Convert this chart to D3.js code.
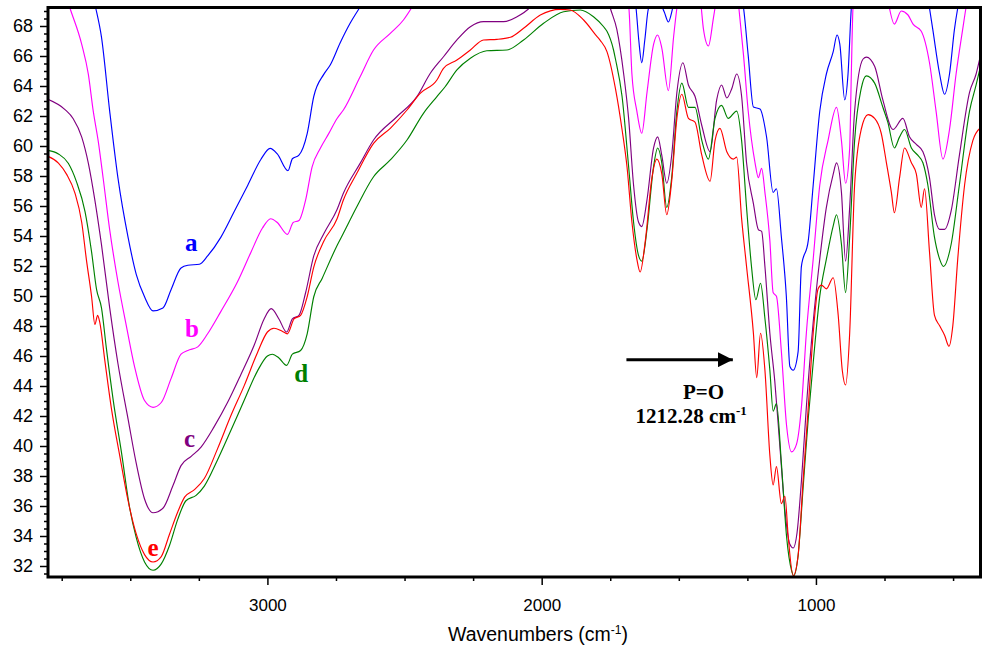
<!DOCTYPE html>
<html>
<head>
<meta charset="utf-8">
<script src="https://cdn.jsdelivr.net/npm/d3@7"></script>
<style>
body { margin: 0; background: #fff; }
</style>
</head>
<body>
<div id="chart"></div>
<script>
// wavenumber (cm-1), transmittance (%)
var seriesA = [
	[3800,76],[3660,71.5],[3626,69.2],[3605,67.26],[3575,62.31],[3545,57.87],[3508,53.91],[3478,51.43],[3448,49.95],[3417,49.01],
	[3381,49.2],[3351,50.44],[3315,51.87],[3290,52.05],[3248,52.12],[3218,52.67],[3170,53.91],[3121,55.63],[3072,57.37],[3024,59.1],
	[2990,59.84],[2964,59.47],[2925,58.35],[2909,59.15],[2885,59.39],[2855,60.83],[2831,63.3],[2794,64.79],[2771,65.4],[2735,66.87],
	[2698,68.2],[2662,69.27],[2600,71],[2000,75],[1720,71],[1669,70.4],[1656,69.2],[1646,67.07],[1635,65.55],[1624,67.07],
	[1610,69.2],[1575,69.73],[1553,68.93],[1538,68.27],[1524,69.07],[1509,70.4],[1400,73],[1279,70.4],[1264,69.2],[1247,66.04],
	[1228,62.6],[1204,62.47],[1180,60.6],[1156,56.91],[1144,57.15],[1126,53.93],[1108,50.0],[1095,45.3],[1083,45.05],[1065,46.29],
	[1053,51.97],[1028,53.69],[1010,57.4],[986,62.33],[962,64.8],[937,66.29],[923,67.4],[913,66.79],[895,63.07],[883,64.8],
	[871,69.2],[856,71.1],[700,74],[597,70.4],[586,69.2],[574,67.77],[549,64.8],[531,63.45],[513,64.8],[495,67.77],
	[483,69.2],[465,70.7],[400,74]
];
var seriesB = [
	[3800,73],[3756,71.3],[3720,69.2],[3677,66.77],[3653,64.79],[3635,62.32],[3617,60.34],[3599,57.87],[3575,54.41],[3545,50.95],
	[3514,47.98],[3484,45.26],[3448,43.03],[3417,42.58],[3387,42.9],[3351,44.51],[3315,46.12],[3290,46.37],[3254,46.61],[3218,47.48],
	[3170,48.96],[3109,50.95],[3060,52.92],[3018,54.53],[2988,55.15],[2964,54.9],[2927,54.11],[2906,54.9],[2885,55.03],[2861,56.38],
	[2837,58.61],[2807,59.85],[2776,60.84],[2746,61.83],[2723,62.4],[2662,64.62],[2613,66.4],[2552,67.51],[2504,68.4],[2473,69.25],
	[2420,71],[2000,75],[1700,72],[1695,70.4],[1682,69.2],[1671,64.8],[1653,62.33],[1635,60.85],[1616,63.57],[1592,66.78],
	[1577,67.4],[1562,66.53],[1538,63.69],[1519,67.27],[1507,69.2],[1494,70.7],[1425,70.4],[1418,69.2],[1410,67.77],[1392,66.67],
	[1374,68.51],[1368,69.2],[1356,70.7],[1290,70.7],[1281,69.2],[1264,66.04],[1247,62.33],[1222,58.88],[1210,57.89],[1198,58.51],
	[1186,56.91],[1168,53.69],[1156,50.23],[1144,49.98],[1126,46.29],[1107,41.35],[1089,39.61],[1071,40.11],[1053,42.58],[1035,47.52],
	[1010,52.46],[986,57.4],[956,60.36],[925,62.58],[907,60.36],[892,57.52],[877,59.87],[871,64.8],[865,69.2],[856,70.7],
	[743,70.4],[732,69.2],[714,68.13],[689,69.0],[665,68.75],[646,68.13],[616,67.65],[586,65.55],[562,62.33],[537,59.13],
	[513,61.1],[489,64.8],[465,67.77],[453,69.2],[436,70.7],[400,72]
];
var seriesC = [
	[3800,63.11],[3738,62.43],[3708,61.82],[3677,60.59],[3653,58.86],[3629,56.38],[3605,53.42],[3575,49.21],[3545,45.5],[3508,41.79],
	[3478,38.82],[3448,36.47],[3417,35.55],[3381,35.85],[3345,37.33],[3315,38.69],[3278,39.31],[3242,39.93],[3194,41.29],[3145,42.91],
	[3097,44.75],[3048,46.73],[3012,48.47],[2986,49.16],[2958,48.47],[2930,47.6],[2909,48.47],[2885,48.71],[2861,50.2],[2831,52.67],
	[2794,54.16],[2746,55.77],[2723,56.85],[2662,58.84],[2613,60.4],[2528,61.95],[2455,63.29],[2406,64.85],[2358,65.95],[2309,67.07],
	[2260,67.95],[2212,68.29],[2139,68.29],[2090,68.62],[2042,69.25],[2000,70.3],[1880,71],[1768,70.4],[1750,69.2],[1726,67.77],
	[1701,64.8],[1683,61.84],[1665,57.4],[1647,54.93],[1635,54.63],[1616,56.41],[1592,59.87],[1577,60.61],[1562,59.37],[1544,57.52],
	[1526,59.37],[1507,63.57],[1485,65.55],[1465,64.07],[1441,63.32],[1416,61.35],[1386,59.62],[1362,63.07],[1344,64.07],[1325,63.2],
	[1307,63.82],[1289,64.8],[1271,63.32],[1253,58.88],[1228,56.16],[1210,54.43],[1198,54.31],[1186,51.97],[1168,47.52],[1150,44.31],
	[1132,40.11],[1113,35.67],[1095,33.45],[1083,33.2],[1069,34.2],[1053,37.65],[1035,42.58],[1010,48.27],[986,52.47],[962,55.91],
	[937,58.13],[925,58.88],[907,56.91],[892,52.33],[877,55.91],[859,62.33],[828,65.8],[816,65.93],[786,65.31],[756,63.07],
	[719,61.1],[683,61.84],[659,60.61],[634,60.11],[610,59.62],[586,57.89],[568,55.43],[549,54.44],[531,54.44],[507,55.67],
	[477,59.37],[440,63.57],[416,64.8],[400,66.04]
];
var seriesD = [
	[3800,59.71],[3762,59.47],[3726,58.85],[3696,57.61],[3665,55.63],[3641,52.92],[3623,50.44],[3605,49.21],[3587,46.49],[3562,43.03],
	[3532,39.56],[3502,35.85],[3478,33.87],[3448,32.27],[3417,31.72],[3387,32.14],[3357,33.37],[3327,35.11],[3297,36.35],[3260,36.71],
	[3230,37.33],[3182,39.07],[3133,41.05],[3085,43.03],[3036,45.01],[3000,46.0],[2982,46.12],[2958,45.87],[2930,45.38],[2909,46.12],
	[2879,46.37],[2855,47.48],[2831,49.95],[2800,51.19],[2746,53.37],[2723,54.18],[2674,55.95],[2613,57.95],[2552,59.07],[2491,60.4],
	[2431,62.18],[2382,63.29],[2352,63.95],[2309,65.07],[2260,65.85],[2200,66.35],[2127,66.4],[2066,67.07],[1993,68.18],[1920,68.95],
	[1859,69.07],[1811,68.62],[1774,67.95],[1762,67.65],[1738,66.4],[1731,65.8],[1707,63.32],[1683,58.63],[1665,54.93],[1647,52.71],
	[1635,52.33],[1616,54.43],[1592,58.63],[1577,59.87],[1562,58.88],[1544,55.91],[1526,57.89],[1507,62.33],[1489,64.19],[1465,62.58],
	[1441,62.58],[1416,60.36],[1392,59.13],[1368,61.84],[1344,62.71],[1320,61.84],[1289,62.33],[1271,60.36],[1253,55.91],[1235,51.97],
	[1219,49.75],[1202,50.85],[1186,48.5],[1168,45.05],[1156,42.33],[1144,42.83],[1126,38.87],[1107,33.94],[1089,31.71],[1081,31.35],
	[1065,32.7],[1047,37.15],[1028,41.84],[1010,45.55],[986,49.99],[962,52.46],[937,54.68],[925,55.42],[907,53.45],[892,50.23],
	[877,53.94],[859,60.36],[835,63.82],[816,64.68],[786,64.19],[756,62.58],[738,61.59],[714,59.87],[695,60.61],[677,61.1],
	[652,59.87],[628,59.37],[610,58.88],[592,57.4],[568,53.94],[549,52.46],[535,51.97],[507,53.45],[477,57.4],[440,62.33],
	[416,64.07],[400,65.31]
];
var seriesE = [
	[3800,59.31],[3762,58.86],[3732,58.11],[3702,56.88],[3677,54.9],[3660,52.43],[3641,49.95],[3629,48.1],[3619,48.71],[3611,48.22],
	[3593,45.73],[3569,42.53],[3538,39.31],[3508,36.35],[3478,34.12],[3448,32.76],[3417,32.27],[3387,32.63],[3357,34.12],[3327,35.6],
	[3302,36.59],[3266,37.09],[3230,37.83],[3182,39.81],[3133,42.03],[3085,44.01],[3036,46.24],[3000,47.6],[2976,47.85],[2946,47.65],
	[2927,47.48],[2903,48.47],[2879,48.71],[2855,49.95],[2831,51.93],[2794,53.67],[2746,55.15],[2723,56.4],[2674,58.18],[2613,60.18],
	[2552,61.18],[2491,62.4],[2443,63.51],[2382,64.4],[2358,65.18],[2309,65.73],[2260,66.4],[2212,67.07],[2163,67.11],[2114,67.25],
	[2066,67.85],[2005,68.73],[1932,69.11],[1896,69.07],[1847,68.4],[1798,67.29],[1786,67.03],[1762,66.29],[1731,63.82],[1707,61.1],
	[1689,58.63],[1671,54.93],[1653,52.46],[1641,51.6],[1622,53.69],[1598,57.89],[1580,59.13],[1562,58.14],[1544,55.42],[1526,57.65],
	[1507,61.84],[1489,63.45],[1465,61.84],[1441,61.59],[1416,59.37],[1386,57.65],[1368,60.36],[1350,61.18],[1325,59.62],[1301,59.13],
	[1289,59.26],[1271,55.16],[1253,51.97],[1228,47.52],[1216,44.56],[1202,47.52],[1186,45.05],[1168,39.37],[1156,37.4],[1144,38.63],
	[1126,36.16],[1113,36.65],[1101,33.93],[1083,31.35],[1065,32.7],[1047,37.65],[1028,42.58],[1010,47.52],[992,50.48],[980,50.73],
	[962,50.48],[937,51.22],[919,48.75],[904,45.05],[892,44.07],[877,47.52],[859,57.4],[835,61.1],[810,62.09],[786,61.84],
	[762,60.85],[743,58.88],[725,56.91],[714,55.55],[695,57.89],[677,59.87],[652,58.88],[634,58.14],[616,55.91],[604,57.15],
	[586,52.95],[568,48.73],[549,48.01],[531,47.39],[515,46.65],[501,48.01],[483,52.46],[458,57.4],[428,60.36],[400,61.22]
];

var seriesNames = ["a", "b", "c", "d", "e"];
var seriesColors = ["#0000ff", "#ff00ff", "#800080", "#008000", "#ff0000"];
// label anchor in data units [wavenumber, transmittance]
var labelPos = [[3278, 53.0], [3275, 47.27], [3284, 39.93], [2877, 44.27], [3417, 32.67]];

var xTicks = [3000, 2000, 1000];
var xMinorTicks = [3750, 3500, 3250, 2750, 2500, 2250, 1750, 1500, 1250, 750, 500];
var yTicks = [32, 34, 36, 38, 40, 42, 44, 46, 48, 50, 52, 54, 56, 58, 60, 62, 64, 66, 68];

var width = 984;
var height = 650;
var plotLeft = 48, plotRight = 980.5, plotTop = 7.5, plotBottom = 577;

var xScale = d3.scaleLinear()
	.domain([3800, 400])
	.range([plotLeft, plotRight]);

var yScale = d3.scaleLinear()
	.domain([32, 68])
	.range([566, 26]);

var svg = d3.select("#chart").append("svg")
	.attr("width", width)
	.attr("height", height)
	.style("font-family", "'Liberation Sans', Arial, sans-serif");

svg.append("clipPath")
	.attr("id", "plot-clip")
	.append("rect")
	.attr("x", plotLeft)
	.attr("y", plotTop)
	.attr("width", plotRight - plotLeft)
	.attr("height", plotBottom - plotTop);

/* spectra */
var line = d3.line()
	.x(d => xScale(d[0]))
	.y(d => yScale(d[1]))
	.curve(d3.curveMonotoneX);

var allSeries = [seriesA, seriesB, seriesC, seriesD, seriesE];

svg.append("g")
	.attr("clip-path", "url(#plot-clip)")
	.selectAll("path")
	.data(allSeries).enter()
	.append("path")
	.attr("d", d => line(d))
	.style("fill", "none")
	.style("stroke", (d, i) => seriesColors[i])
	.style("stroke-width", 1.15)
	.style("stroke-linejoin", "round");

/* series labels */
svg.append("g")
	.selectAll("text")
	.data(seriesNames).enter()
	.append("text")
	.attr("x", (d, i) => xScale(labelPos[i][0]))
	.attr("y", (d, i) => yScale(labelPos[i][1]))
	.attr("text-anchor", "middle")
	.style("font-family", "'Liberation Serif', 'Times New Roman', serif")
	.style("font-weight", "bold")
	.style("font-size", "25px")
	.style("fill", (d, i) => seriesColors[i])
	.text(d => d);

/* axes */
function cleanAxis(g) {
	g.select(".domain").remove();
	g.selectAll(".tick line").attr("stroke", "#000").attr("stroke-width", 1.5);
	g.selectAll(".tick text").attr("fill", "#000");
}

svg.append("g")
	.attr("transform", `translate(0, ${plotBottom})`)
	.call(d3.axisBottom(xScale).tickValues(xTicks).tickSize(8).tickPadding(14).tickFormat(d3.format("d")))
	.call(cleanAxis)
	.selectAll("text")
	.style("font-size", "17px")
	.style("font-family", "'Liberation Sans', Arial, sans-serif");

svg.append("g")
	.attr("transform", `translate(0, ${plotBottom})`)
	.call(d3.axisBottom(xScale).tickValues(xMinorTicks).tickSize(4).tickFormat(""))
	.call(cleanAxis);

svg.append("g")
	.attr("transform", `translate(${plotLeft}, 0)`)
	.call(d3.axisLeft(yScale).tickValues(yTicks).tickSize(8).tickPadding(7))
	.call(cleanAxis)
	.selectAll("text")
	.style("font-size", "18px")
	.style("font-family", "'Liberation Sans', Arial, sans-serif");

var yMinor = d3.range(31.5, 69.2, 0.5).filter(v => yTicks.indexOf(v) < 0);
svg.append("g")
	.attr("transform", `translate(${plotLeft}, 0)`)
	.call(d3.axisLeft(yScale).tickValues(yMinor).tickSize(4).tickFormat(""))
	.call(cleanAxis);

/* frame */
svg.append("rect")
	.attr("x", plotLeft)
	.attr("y", plotTop)
	.attr("width", plotRight - plotLeft)
	.attr("height", plotBottom - plotTop)
	.style("fill", "none")
	.style("stroke", "#000")
	.style("stroke-width", 3);

/* axis title */
var xTitle = svg.append("text")
	.attr("x", 538)
	.attr("y", 641)
	.attr("text-anchor", "middle")
	.style("font-size", "19.5px")
	.text("Wavenumbers (cm");
xTitle.append("tspan").attr("dy", -7).style("font-size", "12px").text("-1");
xTitle.append("tspan").attr("dy", 7).text(")");

/* P=O annotation */
var arrowFrom = [1691, 45.75];
var arrowTo = [1303, 45.75];

svg.append("defs").append("marker")
	.attr("id", "arrowhead")
	.attr("viewBox", "0 0 10 10")
	.attr("refX", 10)
	.attr("refY", 5)
	.attr("markerWidth", 5)
	.attr("markerHeight", 5)
	.attr("markerUnits", "strokeWidth")
	.attr("orient", "auto")
	.append("path")
	.attr("d", "M0,0 L10,5 L0,10 z")
	.style("fill", "#000");

svg.append("line")
	.attr("x1", xScale(arrowFrom[0]))
	.attr("y1", yScale(arrowFrom[1]))
	.attr("x2", xScale(arrowTo[0]))
	.attr("y2", yScale(arrowTo[1]))
	.style("stroke", "#000")
	.style("stroke-width", 3)
	.attr("marker-end", "url(#arrowhead)");

var annoFont = "'Liberation Serif', 'Times New Roman', serif";

svg.append("text")
	.attr("x", xScale(1410))
	.attr("y", yScale(43.13))
	.attr("text-anchor", "middle")
	.style("font-family", annoFont)
	.style("font-weight", "bold")
	.style("font-size", "21px")
	.text("P=O");

var peakText = svg.append("text")
	.attr("x", xScale(1455))
	.attr("y", yScale(41.53))
	.attr("text-anchor", "middle")
	.style("font-family", annoFont)
	.style("font-weight", "bold")
	.style("font-size", "21px")
	.text("1212.28 cm");
peakText.append("tspan").attr("dy", -8).style("font-size", "13px").text("-1");
</script>
</body>
</html>
